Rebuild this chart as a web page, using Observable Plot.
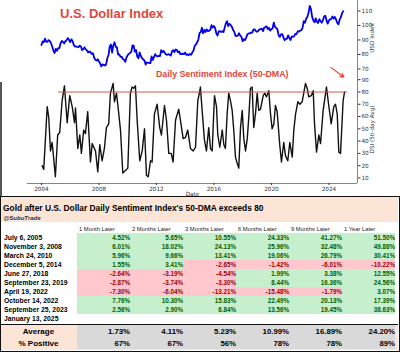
<!DOCTYPE html>
<html><head><meta charset="utf-8">
<script src="https://cdn.jsdelivr.net/npm/d3@7"></script>
<script src="https://cdn.jsdelivr.net/npm/@observablehq/plot@0.6"></script>
<style>
body{margin:0;background:#fff;}
#page{position:relative;width:400px;height:352px;overflow:hidden;background:#fff;font-family:"Liberation Sans",Arial,sans-serif;}
.abs{position:absolute;line-height:1;white-space:nowrap;}
#title{left:60px;top:7.3px;font-size:13px;font-weight:bold;color:#e0473a;}
#dsiNote{left:156px;top:70px;font-size:8.8px;font-weight:bold;color:#e0473a;}
#leftEdge{left:0;top:82px;width:2px;height:115px;background:#555;}
#usd{left:0;top:0;}
#dsi{left:0;top:58px;}
#table{left:0;top:196px;width:400px;height:156px;box-sizing:border-box;border:1.5px solid #111;}
#tbar{position:absolute;left:0;top:0;width:397px;height:24.5px;background:#fce4d6;}
#ttl{left:2px;top:7px;font-size:8.4px;font-weight:bold;color:#000;}
#sub{left:2.5px;top:17.5px;font-size:6px;font-weight:bold;font-style:italic;color:#333;}
#rows{position:absolute;left:0;top:24.5px;}
#summary{position:absolute;left:0;top:127px;width:397px;border-top:1.5px solid #111;}
svg{display:block;}
</style>
</head><body>
<div id="page">
  <div id="usd" class="abs"></div>
  <div id="dsi" class="abs"></div>
  <div id="title" class="abs">U.S. Dollar Index</div>
  <div id="dsiNote" class="abs">Daily Sentiment Index (50-DMA)</div>
  <div id="leftEdge" class="abs"></div>
  <div id="table" class="abs">
    <div id="tbar">
      <div id="ttl" class="abs">Gold after U.S. Dollar Daily Sentiment Index's 50-DMA exceeds 80</div>
      <div id="sub" class="abs">@SubuTrade</div>
    </div>
    <div id="rows"></div>
    <div id="summary"></div>
  </div>
</div>
<script>
// ---------- chart data ----------
const usdStart = 2004; // monthly values, January 2004 onwards
const usdMonthly = [
  86.5, 89.0, 88.4, 90.9, 88.9, 88.7, 89.9, 89.3, 87.7, 85.5, 82.7, 81.0,
  83.9, 82.5, 84.3, 84.4, 87.7, 89.3, 88.7, 87.6, 89.1, 89.9, 91.3, 90.1,
  88.5, 90.4, 89.3, 86.6, 85.5, 85.5, 85.2, 85.1, 86.1, 85.4, 83.0, 83.7,
  84.9, 83.5, 82.8, 81.4, 82.1, 81.6, 80.4, 80.9, 77.9, 76.3, 75.8, 76.7,
  75.1, 73.9, 71.8, 73.1, 72.9, 72.4, 73.2, 77.4, 79.6, 85.5, 86.8, 81.3,
  86.2, 88.4, 85.4, 84.9, 79.9, 80.1, 78.4, 78.4, 76.8, 76.4, 74.9, 77.9,
  79.5, 80.4, 81.1, 81.8, 86.2, 86.1, 81.9, 83.1, 78.6, 77.3, 81.4, 79.0,
  77.5, 76.5, 75.9, 73.0, 74.6, 74.3, 74.1, 74.0, 78.6, 76.2, 78.3, 80.2,
  79.0, 78.6, 79.0, 78.9, 83.0, 81.6, 82.4, 81.2, 79.9, 79.8, 80.2, 79.8,
  79.2, 82.1, 83.0, 81.6, 83.4, 83.2, 81.5, 82.1, 80.2, 80.2, 80.7, 80.2,
  81.3, 79.7, 80.1, 79.5, 80.4, 79.8, 81.5, 82.8, 86.0, 86.9, 88.4, 90.3,
  94.8, 95.3, 98.4, 94.6, 96.9, 95.5, 97.3, 96.0, 96.4, 97.0, 100.2, 98.6,
  99.6, 98.2, 94.6, 93.1, 95.9, 96.1, 95.5, 96.0, 95.4, 98.5, 101.5, 102.9,
  99.5, 101.1, 100.4, 99.1, 97.0, 95.6, 92.9, 92.7, 93.1, 94.6, 93.0, 92.1,
  89.1, 90.6, 89.9, 91.8, 94.0, 94.5, 94.5, 95.1, 95.1, 97.1, 97.3, 96.2,
  95.6, 96.2, 97.3, 97.5, 97.8, 96.1, 98.5, 98.9, 99.4, 97.4, 98.3, 96.4,
  97.4, 98.1, 102.0, 99.0, 98.3, 97.4, 93.3, 92.1, 93.9, 94.0, 91.9, 89.9,
  90.6, 90.9, 93.2, 91.3, 90.0, 92.4, 92.2, 92.6, 94.2, 94.1, 96.0, 95.7,
  96.5, 96.7, 98.3, 103.0, 101.8, 104.7, 105.9, 108.7, 113.5, 111.5, 105.9, 103.5,
  102.1, 104.9, 102.5, 101.7, 104.3, 102.9, 101.9, 103.6, 106.2, 106.7, 103.5, 101.3,
  103.3, 104.2, 104.5, 106.2, 104.7, 105.9, 104.1, 101.7, 100.8, 104.0, 105.7, 108.5,
  109.8
];
const dsiYears = [
  2004.05,2004.16,2004.40,2004.51,2004.63,2004.74,2004.81,2004.97,2005.13,2005.27,2005.44,2005.60,2005.79,2005.97,
  2006.14,2006.30,2006.37,2006.53,2006.67,2006.78,2006.94,2007.06,2007.22,2007.41,2007.53,2007.76,2007.92,
  2008.06,2008.22,2008.38,2008.52,2008.68,2008.80,2008.99,2009.08,2009.22,2009.31,2009.50,2009.66,2009.85,
  2010.01,2010.19,2010.31,2010.42,2010.54,2010.66,2010.84,2011.01,2011.17,2011.31,2011.43,2011.59,2011.70,2011.86,
  2012.05,2012.23,2012.35,2012.56,2012.70,2012.86,2013.03,2013.16,2013.33,2013.55,2013.67,2013.86,
  2014.02,2014.18,2014.37,2014.56,2014.72,2014.88,2015.02,2015.06,2015.18,2015.34,2015.48,2015.64,2015.76,2015.88,
  2016.04,2016.18,2016.27,2016.41,2016.58,2016.69,2016.80,2016.92,2017.03,2017.15,2017.27,2017.38,2017.50,2017.62,2017.73,2017.85,2017.97,
  2018.08,2018.20,2018.32,2018.43,2018.54,2018.66,2018.77,2018.89,2019.01,2019.12,2019.24,2019.43,2019.54,2019.66,2019.82,2019.94,
  2020.05,2020.17,2020.28,2020.40,2020.58,2020.70,2020.86,2020.98,2021.14,2021.28,2021.45,2021.56,2021.68,2021.84,2021.98,
  2022.14,2022.25,2022.37,2022.49,2022.60,2022.77,2022.91,2023.00,2023.14,2023.30,2023.42,2023.60,2023.83,2023.99,
  2024.16,2024.34,2024.46,2024.58,2024.69,2024.81,2024.99,2025.09
];
const dsiValues = [
  20,17,68,59,32,39,31,11,45,47,73,85,55,77,
  68,55,67,34,45,30,49,46,64,23,38,32,15,
  37,24,34,51,54,79,87,72,79,70,49,14,16,
  18,79,84,83,85,57,24,32,50,12,11,24,23,62,
  70,51,45,69,57,30,30,23,57,66,57,42,
  43,49,34,32,35,73,81,84,65,41,32,51,34,32,
  77,68,45,35,49,37,34,62,79,73,65,49,27,22,18,51,65,
  42,32,42,60,83,84,51,62,79,65,66,77,79,76,81,62,
  50,54,69,64,37,23,39,28,24,39,27,49,62,72,70,
  72,79,87,83,76,77,81,54,31,45,38,65,84,69,
  54,68,70,62,31,30,73,80
];
const threshold = 80;
const thresholdFrom = 2005.2, thresholdTo = 2025.3;
const yearTicks = [2004, 2008, 2012, 2016, 2020, 2024];
const usdTicks = [70, 80, 90, 100, 110];
const dsiTicks = [10, 20, 30, 40, 50, 60, 70, 80, 90];

// ---------- table data ----------
const periods = ["1 Month Later", "2 Months Later", "3 Months Later", "6 Months Later", "9 Months Later", "1 Year Later"];
const eventDates = ["July 6, 2005", "November 3, 2008", "March 24, 2010", "December 5, 2014", "June 27, 2018",
  "September 23, 2019", "April 19, 2022", "October 14, 2022", "September 25, 2023", "January 13, 2025"];
const oneMonth    = [4.52, 6.01, 5.96, 1.55, -2.64, -2.87, -7.30, 7.76, 2.56, null];
const twoMonths   = [5.65, 18.02, 9.66, 3.41, -3.19, -3.74, -6.04, 10.30, 2.90, null];
const threeMonths = [10.55, 24.13, 13.41, -2.65, -4.54, -3.30, -13.21, 15.83, 6.84, null];
const sixMonths   = [24.33, 25.96, 19.06, -1.42, 1.99, 8.44, -15.48, 22.49, 13.56, null];
const nineMonths  = [41.27, 32.48, 26.79, -6.01, 3.38, 16.36, -1.79, 20.13, 19.45, null];
const oneYear     = [51.50, 49.88, 30.41, -10.22, 12.55, 24.56, 3.07, 17.39, 38.63, null];
const summaryLabels = ["Average", "% Positive"];
const averages    = [1.73, 4.11, 5.23, 10.99, 16.89, 24.20];
const pctPositive = [67, 67, 56, 78, 78, 89];

// ---------- styling ----------
const red = "#e0473a";
const xDomain = [2003.03, 2025.99];
const usdDomain = [65.5, 117.2];
const dsiDomain = [5.5, 93.4];
const chartStyle = {fontFamily: "DejaVu Sans", fontSize: "5.7px", color: "#333", background: "transparent", overflow: "visible"};

const usd = usdMonthly.map((v, i) => ({t: usdStart + i / 12, v}));
const dsi = dsiYears.map((t, i) => ({t, v: dsiValues[i]}));

const usdPlot = Plot.plot({
  width: 400, height: 75, marginLeft: 27, marginRight: 43, marginTop: 0, marginBottom: 0,
  x: {domain: xDomain, axis: null},
  y: {domain: usdDomain},
  style: chartStyle,
  marks: [
    Plot.ruleX([xDomain[1]], {stroke: "#666", strokeWidth: 0.8}),
    Plot.line(usd, {x: "t", y: "v", stroke: "#0000ee", strokeWidth: 1.8}),
    Plot.axisY({anchor: "right", ticks: usdTicks, tickSize: 2.5, tickPadding: 1.5,
      label: "USD Index", labelAnchor: "center", labelOffset: 16, labelArrow: "none"})
  ]
});
document.getElementById("usd").appendChild(usdPlot);

const last = dsi[dsi.length - 1];
const dsiPlot = Plot.plot({
  width: 400, height: 139, marginLeft: 27, marginRight: 43, marginTop: 17, marginBottom: 14,
  x: {domain: xDomain},
  y: {domain: dsiDomain},
  style: chartStyle,
  marks: [
    Plot.ruleY([dsiDomain[0]], {stroke: "#666", strokeWidth: 0.8}),
    Plot.ruleX([xDomain[1]], {stroke: "#666", strokeWidth: 0.8}),
    Plot.line(dsi, {x: "t", y: "v", stroke: "#111", strokeWidth: 1.4}),
    Plot.ruleY([threshold], {x1: thresholdFrom, x2: thresholdTo, stroke: "#cc5a45", strokeWidth: 1.1}),
    Plot.arrow([last], {x1: d => d.t - 0.95, y1: d => d.v + 20, x2: d => d.t - 0.05, y2: d => d.v + 12,
      stroke: red, strokeWidth: 1.2, headLength: 5}),
    Plot.axisX({ticks: yearTicks, tickFormat: d => String(d), tickSize: 2, tickPadding: 1,
      label: "Date", labelAnchor: "center", labelOffset: 12, labelArrow: "none"}),
    Plot.axisY({anchor: "right", ticks: dsiTicks, tickSize: 2.5, tickPadding: 1.5,
      label: "DSI (50-day Avg)", labelAnchor: "center", labelOffset: 16, labelArrow: "none"})
  ]
});
document.getElementById("dsi").appendChild(dsiPlot);

// ---------- table ----------
const green = "#c6efce", pink = "#ffc7ce", greenText = "#006100", redText = "#9c0006";
const columns = [oneMonth, twoMonths, threeMonths, sixMonths, nineMonths, oneYear];
const cells = [];
eventDates.forEach((date, i) => columns.forEach((col, j) => {
  if (col[i] != null) cells.push({date, period: periods[j], v: col[i]});
}));

const rowsPlot = Plot.plot({
  width: 397, height: 103, marginLeft: 73.5, marginRight: 0, marginTop: 0.5, marginBottom: 1.5,
  x: {domain: periods, padding: 0, axis: null},
  y: {domain: ["hdr", ...eventDates], padding: 0, axis: null},
  color: {type: "identity"},
  style: {fontFamily: "Liberation Sans", background: "white", overflow: "visible"},
  marks: [
    Plot.cell(cells, {x: "period", y: "date", fill: d => d.v >= 0 ? green : pink, inset: 0}),
    Plot.text(cells, {x: "period", y: "date", text: d => d.v.toFixed(2) + "%", textAnchor: "end", dx: 26,
      fill: d => d.v >= 0 ? greenText : redText, fontWeight: "bold", fontSize: 6.3}),
    Plot.text(periods, {x: d => d, y: () => "hdr", text: d => d, textAnchor: "start", dx: -25,
      fill: "#222", fontSize: 5.8}),
    Plot.text(eventDates, {y: d => d, frameAnchor: "left", textAnchor: "start", dx: -71, text: d => d,
      fill: "#000", fontWeight: "bold", fontSize: 6.8})
  ]
});
document.getElementById("rows").appendChild(rowsPlot);

const summary = [];
periods.forEach((p, j) => {
  summary.push({row: "Average", period: p, text: averages[j].toFixed(2) + "%"});
  summary.push({row: "% Positive", period: p, text: pctPositive[j] + "%"});
});
const summaryPlot = Plot.plot({
  width: 397, height: 24.5, marginLeft: 73.5, marginRight: 0, marginTop: 0, marginBottom: 0,
  x: {domain: periods, padding: 0, axis: null},
  y: {domain: summaryLabels, padding: 0, axis: null},
  style: {fontFamily: "Liberation Sans", background: "#fce4d6", overflow: "visible"},
  marks: [
    Plot.cell(summary, {x: "period", y: "row", fill: "#d9d9d9", inset: 0}),
    Plot.text(summary, {x: "period", y: "row", text: "text", textAnchor: "end", dx: 26,
      fill: "#000", fontWeight: "bold", fontSize: 7.8}),
    Plot.text(summaryLabels, {y: d => d, frameAnchor: "left", textAnchor: "middle", dx: -36.5, text: d => d,
      fill: "#000", fontWeight: "bold", fontSize: 8})
  ]
});
document.getElementById("summary").appendChild(summaryPlot);
</script>
</body></html>
